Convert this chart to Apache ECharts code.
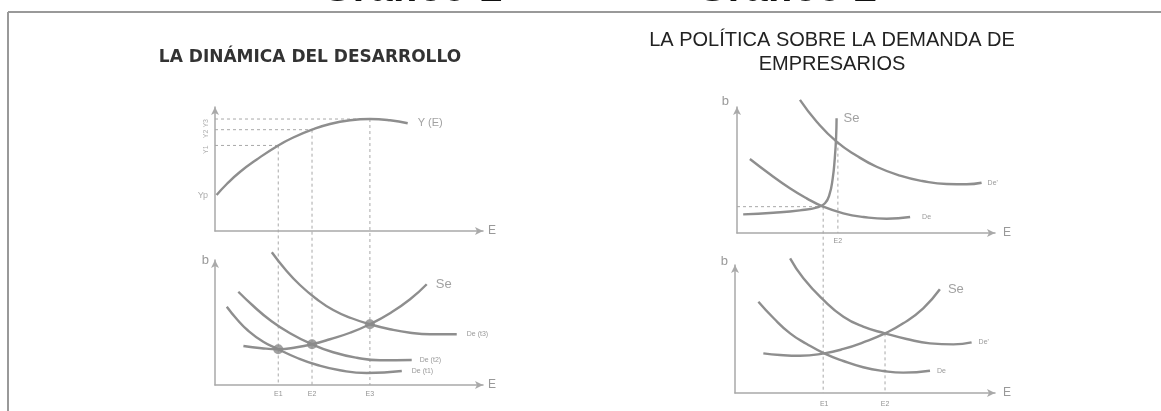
<!DOCTYPE html>
<html>
<head>
<meta charset="utf-8">
<script src="https://cdn.jsdelivr.net/npm/echarts@6/dist/echarts.min.js"></script>
<style>
html,body{margin:0;padding:0;background:#fff;}
#c{width:1161px;height:411px;}
</style>
</head>
<body>
<div id="c"></div>
<script>
// ---------- data (normalized 0-100 panel units) ----------
// Gráfico 1, upper panel: Y(E)
const yCurve = [[0.6,29.0],[4.4,37.9],[9.3,47.6],[15.6,57.7],[23.6,69.0],[29.2,75.4],[36.2,81.7],[42.9,86.3],[50.4,89.3],[57.8,90.3],[65.3,89.3],[71.9,86.9]];
const eLeft = [23.6, 36.2, 57.8];
const eLeftNames = ['E1','E2','E3'];
const yLevels = [69.0, 81.7, 90.3];
const yLevelNames = ['Y1','Y2','Y3'];
const ypValue = 29.0;
// Gráfico 1, lower panel
const seLeft = [[10.6,31.2],[17.4,29.4],[23.6,28.6],[30.5,30.2],[36.2,32.6],[42.9,36.6],[50.4,41.8],[57.8,48.6],[65.3,57.4],[72.8,68.6],[79.0,80.6]];
const deT1 = [[4.4,62.6],[8.1,52.8],[12.4,43.4],[18.0,34.6],[23.6,28.6],[30.5,21.8],[37.9,16.2],[46.6,11.8],[56.6,9.6],[69.7,11.2]];
const deT2 = [[8.7,74.6],[14.3,63.2],[20.5,52.0],[28.0,41.4],[36.2,32.6],[44.1,26.2],[52.9,21.8],[61.6,19.8],[73.4,20.0]];
const deT3 = [[21.2,106.2],[26.1,92.8],[31.7,80.0],[37.9,68.8],[44.1,60.0],[51.0,53.4],[57.8,48.6],[65.3,44.6],[72.8,41.8],[80.2,40.6],[90.2,40.6]];
const equilibria = [[23.6,28.6],[36.2,32.6],[57.8,48.6]];
// Gráfico 2, upper panel
const seRT = [[2.4,14.8],[14.1,16.1],[24.4,18.0],[31.5,20.6],[34.1,23.6],[35.8,30.2],[37.1,43.4],[37.9,59.3],[38.4,75.2],[38.6,91.0]];
const deRT = [[5.0,58.7],[12.8,46.6],[20.5,35.5],[27.0,27.5],[33.4,20.9],[41.2,15.6],[49.0,12.7],[58.0,11.3],[67.1,12.7]];
const dePrimeRT = [[24.4,105.6],[30.9,88.3],[38.6,72.5],[46.4,61.3],[54.1,52.6],[63.2,45.5],[71.8,41.3],[81.3,38.9],[89.0,38.7],[94.8,39.9]];
const rtE1 = [33.4, 20.9];
const rtE2 = [39.1, 72.5];
// Gráfico 2, lower panel
const seRB = [[10.9,31.0],[17.3,29.7],[25.0,29.1],[34.3,31.0],[41.7,34.4],[49.3,39.6],[57.7,46.6],[64.7,54.4],[72.4,66.2],[78.8,81.0]];
const deRB = [[9.0,71.3],[14.7,58.8],[21.2,46.6],[27.6,38.3],[34.3,31.0],[41.7,25.0],[49.3,20.1],[57.0,17.2],[64.7,15.9],[75.0,17.4]];
const dePrimeRB = [[21.2,105.2],[26.3,89.6],[34.0,72.7],[41.7,59.6],[49.3,51.8],[57.7,46.6],[66.0,42.2],[75.0,38.8],[84.0,38.0],[91.0,39.6]];
const rbE = [34.3, 57.7];
const rbE2Level = 46.6;

// ---------- helpers ----------
const CURVE = '#8e8e8e', DASH = '#a8a8a8', AXIS = '#a9a9a9';
const FONT = 'Liberation Sans';
function curve(g, arr) {
  return {type: 'line', xAxisIndex: g, yAxisIndex: g, data: arr, smooth: 0.5,
    symbol: 'none', showSymbol: false, clip: false, lineStyle: {color: CURVE, width: 2.4}, z: 3, silent: true};
}
function dashed(g, a, b) {
  return {type: 'line', xAxisIndex: g, yAxisIndex: g, data: [a, b], symbol: 'none', clip: false, silent: true,
    lineStyle: {color: DASH, width: 1, type: [3, 3]}, z: 1};
}
function textPoints(g, pts, names, labelOpt) {
  return {type: 'scatter', xAxisIndex: g, yAxisIndex: g, symbolSize: 0, clip: false, silent: true, z: 6,
    labelLayout: {hideOverlap: false},
    data: pts.map((p, i) => ({value: p, label: Object.assign({show: true, formatter: names[i], color: '#777', fontSize: 7, fontFamily: FONT}, labelOpt)}))};
}
function endText(g, arr, name, labelOpt) {
  return textPoints(g, [arr[arr.length - 1]], [name], Object.assign({position: 'right', color: '#808080'}, labelOpt));
}
function xAx(g, gap) {
  return {type: 'value', gridIndex: g, min: 0, max: 100, axisTick: {show: false}, axisLabel: {show: false}, splitLine: {show: false},
    axisLine: {show: true, lineStyle: {color: AXIS, width: 1.5}, symbol: ['none', 'arrow'], symbolSize: [6, 8]},
    name: 'E', nameLocation: 'end', nameGap: gap, nameTextStyle: {color: '#999', fontSize: 12, fontFamily: FONT}};
}
function yAx(g, name, gap, pad) {
  return {type: 'value', gridIndex: g, min: 0, max: 100, axisTick: {show: false}, axisLabel: {show: false}, splitLine: {show: false},
    axisLine: {show: true, lineStyle: {color: AXIS, width: 1.5}, symbol: ['none', 'arrow'], symbolSize: [6, 8]},
    name: name, nameLocation: 'end', nameGap: gap,
    nameTextStyle: {color: '#999', fontSize: 13, fontFamily: FONT, align: 'right', verticalAlign: 'middle', padding: [0, pad, 0, 0]}};
}

const chart = echarts.init(document.getElementById('c'));
const series = [
  // left upper
  curve(0, yCurve),
  endText(0, yCurve, 'Y (E)', {fontSize: 11, distance: 10, color: '#8a8a8a'}),
  dashed(0, [0, yLevels[0]], [eLeft[0], yLevels[0]]),
  dashed(0, [0, yLevels[1]], [eLeft[1], yLevels[1]]),
  dashed(0, [0, yLevels[2]], [eLeft[2], yLevels[2]]),
  textPoints(0, [[0, ypValue]], ['Yp'], {position: 'left', distance: 7, fontSize: 9, color: '#999'}),
  textPoints(0, yLevels.map(v => [0, v]), yLevelNames, {position: 'left', distance: 9, rotate: 90, fontSize: 7, color: '#999'}),
  // left lower
  curve(1, seLeft), curve(1, deT1), curve(1, deT2), curve(1, deT3),
  endText(1, seLeft, 'Se', {fontSize: 13, distance: 9, offset: [0, -5], color: '#8a8a8a'}),
  endText(1, deT1, 'De (t1)', {distance: 10}),
  endText(1, deT2, 'De (t2)', {distance: 8, offset: [0, -2]}),
  endText(1, deT3, 'De (t3)', {distance: 10}),
  {type: 'scatter', xAxisIndex: 1, yAxisIndex: 1, data: equilibria, symbolSize: 10, itemStyle: {color: '#8a8a8a'}, z: 5, silent: true},
  textPoints(1, eLeft.map(v => [v, 0]), eLeftNames, {position: 'bottom', distance: 6}),
  // right upper
  curve(2, seRT), curve(2, deRT), curve(2, dePrimeRT),
  endText(2, seRT, 'Se', {fontSize: 13, distance: 7, offset: [0, -7], color: '#8a8a8a'}),
  endText(2, deRT, 'De', {distance: 12}),
  endText(2, dePrimeRT, "De'", {distance: 6}),
  dashed(2, [0, rtE1[1]], rtE1),
  dashed(2, rtE2, [rtE2[0], 0]),
  textPoints(2, [[rtE2[0], 0]], ['E2'], {position: 'bottom', distance: 5}),
  // right lower
  curve(3, seRB), curve(3, deRB), curve(3, dePrimeRB),
  endText(3, seRB, 'Se', {fontSize: 13, distance: 8, offset: [0, -5], color: '#8a8a8a'}),
  endText(3, deRB, 'De', {distance: 7}),
  endText(3, dePrimeRB, "De'", {distance: 7}),
  dashed(3, [rbE[1], rbE2Level], [rbE[1], 0]),
  textPoints(3, rbE.map(v => [v, 0]), ['E1', 'E2'], {position: 'bottom', distance: 8})
];

const option = {
  backgroundColor: '#fff',
  animation: false,
  grid: [
    {left: 215, top: 107, width: 268, height: 124},
    {left: 215, top: 260, width: 268, height: 125},
    {left: 737, top: 107, width: 258, height: 126},
    {left: 735, top: 265, width: 260, height: 128}
  ],
  xAxis: [xAx(0, 5), xAx(1, 5), xAx(2, 8), xAx(3, 8)],
  yAxis: [yAx(0, '', 0, 0), yAx(1, 'b', 0, 6), yAx(2, 'b', 6, 8), yAx(3, 'b', 4, 7)],
  graphic: [
    {type: 'line', shape: {x1: 8, y1: 12, x2: 1161, y2: 12}, style: {stroke: '#999', lineWidth: 2}},
    {type: 'line', shape: {x1: 8, y1: 12, x2: 8, y2: 411}, style: {stroke: '#999', lineWidth: 2}},
    {type: 'text', x: 413, y: -11, style: {text: 'Gráfico 1', font: 'italic bold 42px "Liberation Sans"', fill: '#111', textAlign: 'center', textVerticalAlign: 'middle'}},
    {type: 'text', x: 788, y: -11, style: {text: 'Gráfico 2', font: 'italic bold 42px "Liberation Sans"', fill: '#111', textAlign: 'center', textVerticalAlign: 'middle'}},
    {type: 'text', x: 310, y: 58, style: {text: 'LA DINÁMICA DEL DESARROLLO', font: 'bold 17px "DejaVu Sans"', fill: '#333', textAlign: 'center', textVerticalAlign: 'middle'}},
    {type: 'text', x: 832, y: 52, style: {text: 'LA POLÍTICA SOBRE LA DEMANDA DE\nEMPRESARIOS', font: '20px "Liberation Sans"', lineHeight: 24, fill: '#222', textAlign: 'center', textVerticalAlign: 'middle'}}
  ],
  series: series
};
chart.setOption(option);

// vertical guide lines crossing from the upper to the lower panels, via the library's coordinate conversion
const lowLT = chart.convertFromPixel({gridIndex: 0}, chart.convertToPixel({gridIndex: 1}, [0, 0]))[1];
const lowRT = chart.convertFromPixel({gridIndex: 2}, chart.convertToPixel({gridIndex: 3}, [0, 0]))[1];
eLeft.forEach((e, i) => series.push(dashed(0, [e, yLevels[i]], [e, lowLT])));
series.push(dashed(2, rtE1, [rtE1[0], lowRT]));
chart.setOption({series: series});
</script>
</body>
</html>
